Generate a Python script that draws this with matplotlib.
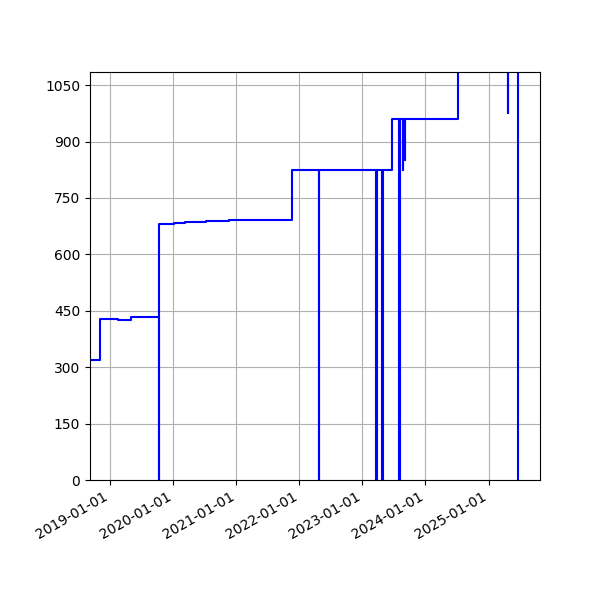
import matplotlib
matplotlib.use("Agg")
import matplotlib.pyplot as plt
import matplotlib.dates as mdates
import pandas as pd

dates = ["2018-08-01", "2018-11-02", "2019-02-15", "2019-05-01",
         "2019-10-11", "2019-10-12", "2020-01-07", "2020-03-09", "2020-07-07",
         "2020-11-21", "2021-02-26", "2021-11-18",
         "2022-04-25", "2022-04-26",
         "2023-03-23", "2023-03-24", "2023-04-27", "2023-04-28",
         "2023-06-22",
         "2023-08-03", "2023-08-04", "2023-08-23", "2023-08-25",
         "2023-09-05", "2023-09-07",
         "2024-07-06", "2025-04-23", "2025-04-25", "2025-06-20"]
values = [320, 427, 426, 434,
          0, 682, 684, 687, 688,
          691, 692, 824,
          0, 824,
          0, 824, 0, 824,
          960,
          0, 960, 824, 960,
          851, 960,
          1150, 976, 1150, 0]
y_ticks = [0, 150, 300, 450, 600, 750, 900, 1050]

x = pd.to_datetime(dates)

fig = plt.figure(figsize=(6, 6), dpi=100)
ax = fig.add_axes([0.15, 0.2, 0.75, 0.68])
ax.plot(x, values, color="blue", linewidth=1.5, drawstyle="steps-post")
ax.set_xlim(pd.Timestamp("2018-09-05"), pd.Timestamp("2025-10-26"))
ax.set_ylim(0, 1085)
ax.set_yticks(y_ticks)
ax.xaxis.set_major_locator(mdates.YearLocator())
ax.xaxis.set_major_formatter(mdates.DateFormatter("%Y-%m-%d"))
ax.grid(True)
for lbl in ax.get_xticklabels():
    lbl.set_rotation(30)
    lbl.set_ha("right")
fig.savefig("out.png", dpi=100)
